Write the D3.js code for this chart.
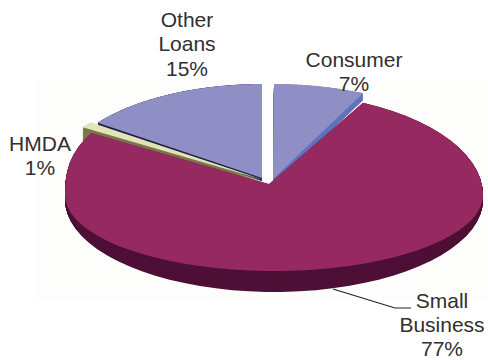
<!DOCTYPE html>
<html>
<head>
<meta charset="utf-8">
<script src="https://cdn.jsdelivr.net/npm/d3@7"></script>
<style>
  html, body { margin: 0; padding: 0; background: #fff; }
  svg { display: block; }
  text { font-family: "Liberation Sans", Arial, sans-serif; font-size: 21px; fill: #303030; text-anchor: middle; }
</style>
</head>
<body>
<svg id="chart" width="488" height="360"></svg>
<script>
// Share of loans by type, clockwise from twelve o'clock.
const categories = ["Consumer", "Small Business", "HMDA", "Other Loans"];
const shares = [7, 77, 1, 15];
const labelLines = [["Consumer", "7%"], ["Small", "Business", "77%"], ["HMDA", "1%"], ["Other", "Loans", "15%"]];

const topColors = { "Consumer": "#8f8fc6", "Small Business": "#962a60", "HMDA": "#e4e2b8", "Other Loans": "#8f8fc6" };
const wallColors = { "Consumer": "#5f72bd", "Small Business": "#4e1036", "HMDA": "#77774a", "Other Loans": "#23234f" };

// Tilted-disc geometry per wedge. The back half of a disc is taller than its
// front half, which gives the perspective look; the wall is swept from the top
// disc down to a lower one (drop = extra centre offset, swell = extra front height).
// corner < 1 squares off the rear-left quadrant of the disc.
const discs = {
  "Consumer": { cx: 274, cy: 180, rx: 209, back: 96, front: 96, tipX: 273, tipY: 179, drop: 7, swell: 0, corner: 1 },
  "Small Business": { cx: 274, cy: 195, rx: 209, back: 102, front: 76, tipX: 269, tipY: 184, drop: 5, swell: 16, corner: 0.8 },
  "HMDA": { cx: 270, cy: 177, rx: 222, back: 93, front: 93, tipX: 264, tipY: 180, drop: 16, swell: 0, corner: 1 },
  "Other Loans": { cx: 262, cy: 178, rx: 203, back: 94, front: 94, tipX: 262, tipY: 178, drop: 3, swell: 0, corner: 1 }
};
const labelSpots = {
  "Consumer": { x: 354, y: 59, step: 24.6 },
  "Small Business": { x: 442, y: 300, step: 24 },
  "HMDA": { x: 40, y: 143, step: 24.6 },
  "Other Loans": { x: 187, y: 19, step: 24.6 }
};

const svg = d3.select("#chart");

// Very faint tint behind the pie.
svg.append("rect").attr("x", 36).attr("y", 79).attr("width", 452).attr("height", 222).attr("fill", "#fdfdfb");

const pie = d3.pie().sort(null).value(d => d.share);
const slices = pie(categories.map((name, i) => ({ name, share: shares[i], lines: labelLines[i] })));
const outline = d3.line();

// Outline of one wedge on a disc: the tip, then the rim sampled along the wedge's angles.
function wedgePath(s, disc, t) {
  const cy = disc.cy + disc.drop * t;
  const front = disc.front + disc.swell * t;
  const steps = d3.range(0, 1.0001, 1 / 60).map(d3.interpolateNumber(s.startAngle, s.endAngle));
  const rim = steps.map(a => {
    const sin = Math.sin(a);
    const cos = Math.cos(a);
    if (sin < 0 && cos > 0) {
      return [disc.cx - disc.rx * Math.pow(-sin, disc.corner), cy - disc.back * Math.pow(cos, disc.corner)];
    }
    return [disc.cx + disc.rx * sin, cy - (cos > 0 ? disc.back : front) * cos];
  });
  return outline([[disc.tipX, disc.tipY + disc.drop * t], ...rim]) + "Z";
}

// Back wedges first, the large wedge last so it overlaps their lower walls.
const order = ["Other Loans", "HMDA", "Consumer", "Small Business"];
const ordered = order.map(n => slices.find(s => s.data.name === n));

svg.selectAll("g.wedge").data(ordered).join("g").attr("class", "wedge").each(function (s) {
  const disc = discs[s.data.name];
  const g = d3.select(this);
  g.selectAll("path.wall")
    .data(d3.range(1, 0, -1 / 24))
    .join("path")
    .attr("class", "wall")
    .attr("d", t => wedgePath(s, disc, t))
    .attr("fill", wallColors[s.data.name]);
  g.append("path")
    .attr("class", "top")
    .attr("d", wedgePath(s, disc, 0))
    .attr("fill", topColors[s.data.name]);
});

// Leader from the large wedge to its label.
svg.append("path")
  .attr("d", d3.line()([[333, 289], [395, 308], [411, 308]]))
  .attr("fill", "none")
  .attr("stroke", "#222")
  .attr("stroke-width", 1.2);

// Labels, one text row per line.
const label = svg.selectAll("g.label").data(slices).join("g").attr("class", "label");
label.selectAll("text")
  .data(s => s.data.lines.map((line, i) => ({ line, i, spot: labelSpots[s.data.name] })))
  .join("text")
  .attr("x", d => d.spot.x)
  .attr("y", d => d.spot.y + d.i * d.spot.step)
  .attr("dy", "0.36em")
  .text(d => d.line);
</script>
</body>
</html>
